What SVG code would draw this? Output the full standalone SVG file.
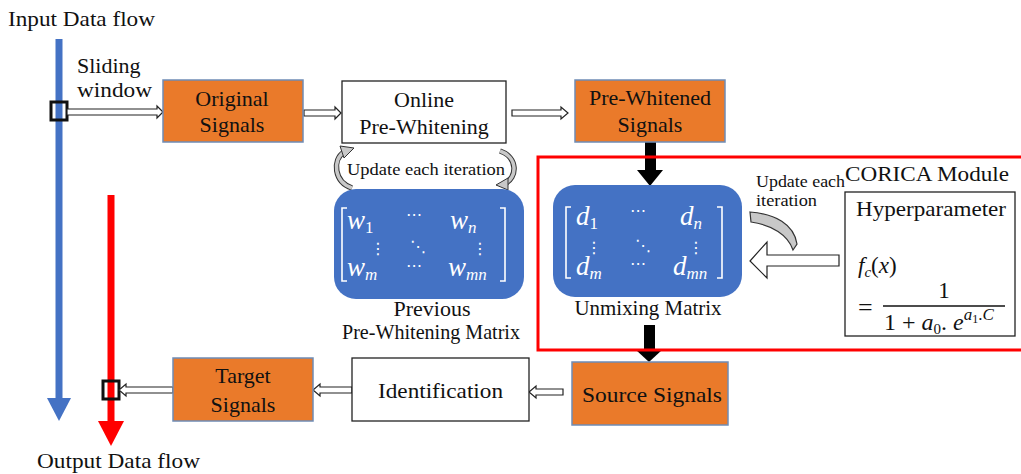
<svg xmlns="http://www.w3.org/2000/svg" width="1021" height="474" viewBox="0 0 1021 474">
<style>
text{font-family:"Liberation Serif","Times New Roman",serif;fill:#111}
.lbl{font-size:22px}
.sm{font-size:16px}
.orange{fill:#EA7A2A;stroke:#6F8CB5;stroke-width:1.5}
.white{fill:#fff;stroke:#222;stroke-width:1.3}
.hollow{fill:#fff;stroke:#222;stroke-width:1.2}
.mat{fill:#4472C4}
.m{font-family:"Liberation Serif",serif;font-style:italic;font-size:27px;fill:#fff}
.ms{font-size:17px}
.dg{font-style:normal}
.dots{font-family:"DejaVu Sans",sans-serif;font-size:16px;font-style:normal;fill:#fff}
.br{fill:none;stroke:#fff;stroke-width:1.6}
.curl-o{fill:none;stroke:#333;stroke-width:5.5}
.curl-i{fill:none;stroke:#c8c8c8;stroke-width:3.5}
</style>

<g id="flows">
  <text x="8" y="26" class="lbl" textLength="147" lengthAdjust="spacingAndGlyphs">Input Data flow</text>
  <line x1="59" y1="39" x2="59" y2="400" stroke="#4472C4" stroke-width="7"/>
  <polygon points="47,398 71,398 59,421" fill="#4472C4"/>
  <line x1="111" y1="195" x2="111" y2="424" stroke="#FF0000" stroke-width="7"/>
  <polygon points="98,421 124,421 111,446" fill="#FF0000"/>
  <text x="37" y="468" class="lbl" textLength="163" lengthAdjust="spacingAndGlyphs">Output Data flow</text>
  <rect x="51" y="102" width="16" height="18" fill="none" stroke="#111" stroke-width="3"/>
  <rect x="103" y="381" width="16" height="18" fill="none" stroke="#111" stroke-width="3"/>
  <text x="77" y="73" class="lbl">Sliding</text>
  <text x="77" y="97" class="lbl" textLength="75" lengthAdjust="spacingAndGlyphs">window</text>
</g>

<g id="connectors">
  <polygon class="hollow" points="67,109 157,109 157,106 163,112 157,118 157,115 67,115"/>
  <polygon class="hollow" points="304,110 335,110 335,107 341,113 335,119 335,116 304,116"/>
  <polygon class="hollow" points="512,110 561,110 561,107 568,113 561,119 561,116 512,116"/>
  <polygon class="hollow" points="563,389 536,389 536,386 529,392 536,398 536,395 563,395"/>
  <polygon class="hollow" points="352,387 320,387 320,384 313,390 320,396 320,393 352,393"/>
  <polygon class="hollow" points="173,387 126,387 126,384 119,390 126,396 126,393 173,393"/>
  <rect x="645" y="142" width="11" height="30" fill="#000"/>
  <polygon points="637,170 663,170 650,186" fill="#000"/>
  <rect x="644" y="325" width="11" height="27" fill="#000"/>
  <polygon points="636,350 662,350 649,362" fill="#000"/>
  <polygon class="hollow" points="839,255 767,255 767,242 750,261 767,278 767,266 839,266" stroke-width="1.4"/>
  <path d="M750,212 C775,214 794,224 797,244 L793,250 C788,235 772,225 751,222 Z" fill="#c8c8c8" stroke="#333" stroke-width="1.2"/>
  <path class="curl-o" d="M352,188 C334,182 332,160 344,152"/>
  <path class="curl-i" d="M352,188 C334,182 332,160 344,152"/>
  <polygon points="340,146 354,148 344,158" fill="#c8c8c8" stroke="#333" stroke-width="1"/>
  <path class="curl-o" d="M500,151 C518,157 518,178 504,184"/>
  <path class="curl-i" d="M500,151 C518,157 518,178 504,184"/>
  <polygon points="508,178 508,190 496,185" fill="#c8c8c8" stroke="#333" stroke-width="1"/>
</g>

<g id="corica">
  <polyline points="1021,157 538,157 538,350 1021,350" fill="none" stroke="#FF0000" stroke-width="3"/>
  <text x="845" y="181" font-size="21" textLength="164" lengthAdjust="spacingAndGlyphs">CORICA Module</text>
  <text x="756" y="187" class="sm" font-size="15" textLength="89" lengthAdjust="spacingAndGlyphs">Update each</text>
  <text x="756" y="206" class="sm" font-size="15" textLength="61" lengthAdjust="spacingAndGlyphs">iteration</text>
</g>

<g id="original-signals">
  <rect class="orange" x="163" y="80" width="140" height="62"/>
  <text x="232" y="106" class="lbl" text-anchor="middle">Original</text>
  <text x="232" y="132" class="lbl" text-anchor="middle">Signals</text>
</g>

<g id="online-prewhitening">
  <rect class="white" x="342" y="81" width="164" height="62"/>
  <text x="424" y="107" class="lbl" text-anchor="middle">Online</text>
  <text x="424" y="134" class="lbl" text-anchor="middle">Pre-Whitening</text>
  <text x="347" y="175" class="sm" textLength="158" lengthAdjust="spacingAndGlyphs">Update each iteration</text>
</g>

<g id="prewhitened-signals">
  <rect class="orange" x="575" y="80" width="150" height="62"/>
  <text x="650" y="105" class="lbl" text-anchor="middle">Pre-Whitened</text>
  <text x="650" y="132" class="lbl" text-anchor="middle">Signals</text>
</g>

<g id="prev-matrix">
  <rect class="mat" x="334" y="189" width="190" height="110" rx="22"/>
  <path class="br" d="M347,208 L342,208 L342,281 L347,281"/>
  <path class="br" d="M500,208 L505,208 L505,281 L500,281"/>
  <text class="m"><tspan x="347" y="229">w</tspan><tspan class="ms dg" dy="4">1</tspan><tspan x="450" y="229">w</tspan><tspan class="ms" dy="4">n</tspan><tspan x="347" y="276">w</tspan><tspan class="ms" dy="4">m</tspan><tspan x="448" y="276">w</tspan><tspan class="ms" dy="4">mn</tspan></text>
  <text class="dots"><tspan x="406" y="220">⋯</tspan><tspan x="370" y="254">⋮</tspan><tspan x="410" y="252">⋱</tspan><tspan x="472" y="254">⋮</tspan><tspan x="406" y="271">⋯</tspan></text>
  <text x="432" y="316" class="lbl" font-size="20" text-anchor="middle">Previous</text>
  <text x="431" y="339" class="lbl" font-size="20" text-anchor="middle" textLength="178" lengthAdjust="spacingAndGlyphs">Pre-Whitening Matrix</text>
</g>

<g id="unmixing-matrix">
  <rect class="mat" x="553" y="185" width="189" height="112" rx="22"/>
  <path class="br" d="M571,207 L566,207 L566,278 L571,278"/>
  <path class="br" d="M717,207 L722,207 L722,278 L717,278"/>
  <text class="m"><tspan x="576" y="225">d</tspan><tspan class="ms dg" dy="4">1</tspan><tspan x="680" y="225">d</tspan><tspan class="ms" dy="4">n</tspan><tspan x="576" y="275">d</tspan><tspan class="ms" dy="4">m</tspan><tspan x="673" y="275">d</tspan><tspan class="ms" dy="4">mn</tspan></text>
  <text class="dots"><tspan x="630" y="216">⋯</tspan><tspan x="586" y="253">⋮</tspan><tspan x="635" y="251">⋱</tspan><tspan x="688" y="253">⋮</tspan><tspan x="630" y="269">⋯</tspan></text>
  <text x="648" y="315" class="lbl" font-size="20" text-anchor="middle" textLength="147" lengthAdjust="spacingAndGlyphs">Unmixing Matrix</text>
</g>

<g id="hyperparameter">
  <rect class="white" x="845" y="192" width="170" height="144"/>
  <text x="856" y="216" class="lbl" textLength="150" lengthAdjust="spacingAndGlyphs">Hyperparameter</text>
  <text x="858" y="273" font-size="23"><tspan font-style="italic">f</tspan><tspan font-size="15" font-style="italic" dy="4">c</tspan><tspan dy="-4">(</tspan><tspan font-style="italic">x</tspan>)</text>
  <text x="858" y="316" font-size="26">=</text>
  <text x="944" y="298" font-size="23" text-anchor="middle">1</text>
  <line x1="883" y1="306" x2="1005" y2="306" stroke="#111" stroke-width="1.3"/>
  <text x="884" y="330" font-size="24">1 + <tspan font-style="italic">a</tspan><tspan font-size="15" dy="4">0</tspan><tspan dy="-4">. </tspan><tspan font-style="italic">e</tspan><tspan font-size="17" font-style="italic" dy="-10">a</tspan><tspan font-size="12" dy="3">1</tspan><tspan font-size="17" dy="-3">.</tspan><tspan font-size="17" font-style="italic">C</tspan></text>
</g>

<g id="source-signals">
  <rect class="orange" x="572" y="362" width="156" height="63"/>
  <text x="582" y="402" class="lbl" textLength="140" lengthAdjust="spacingAndGlyphs">Source Signals</text>
</g>

<g id="identification">
  <rect class="white" x="352" y="358" width="177" height="63"/>
  <text x="378" y="398" class="lbl" textLength="125" lengthAdjust="spacingAndGlyphs">Identification</text>
</g>

<g id="target-signals">
  <rect class="orange" x="173" y="358" width="140" height="63"/>
  <text x="243" y="383" class="lbl" text-anchor="middle">Target</text>
  <text x="243" y="412" class="lbl" text-anchor="middle">Signals</text>
</g>
</svg>
